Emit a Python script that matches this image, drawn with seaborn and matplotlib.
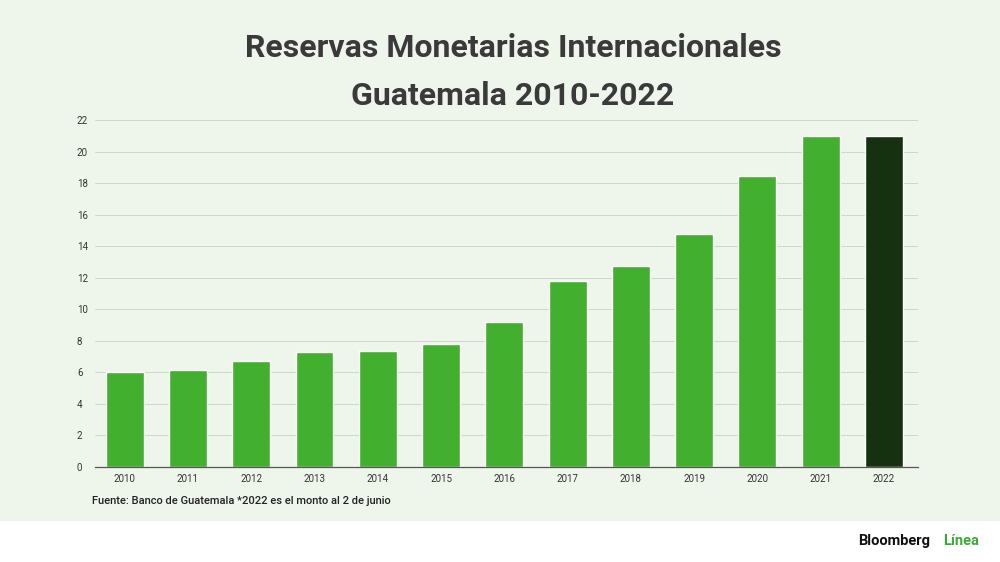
import matplotlib
matplotlib.use("Agg")
import matplotlib.pyplot as plt
import seaborn as sns
import pandas as pd
from matplotlib.patches import Rectangle

years = ["2010", "2011", "2012", "2013", "2014", "2015", "2016",
         "2017", "2018", "2019", "2020", "2021", "2022"]
reserves = [6.0, 6.15, 6.72, 7.29, 7.36, 7.8, 9.19, 11.8, 12.75, 14.78, 18.45, 20.99, 21.0]
yticks = [0, 2, 4, 6, 8, 10, 12, 14, 16, 18, 20, 22]

BG = "#EEF6EC"
GREEN = "#43AF2F"
DARK = "#15310F"

sns.set_style("white")
plt.rcParams["font.family"] = ["Roboto", "DejaVu Sans"]

df = pd.DataFrame({"year": years, "value": reserves})
palette = [GREEN] * (len(years) - 1) + [DARK]

fig = plt.figure(figsize=(10, 5.62), dpi=100)
fig.patch.set_facecolor("white")
fig.patches.append(Rectangle((0, 1 - 521 / 562), 1, 521 / 562, transform=fig.transFigure,
                             facecolor=BG, edgecolor="none", zorder=-10))

ax = fig.add_axes([0.095, 1 - 467 / 562, 0.823, (467 - 120) / 562])
ax.set_facecolor(BG)
sns.barplot(data=df, x="year", y="value", hue="year", palette=palette,
            legend=False, width=0.6, ax=ax, saturation=1)

ax.set_ylim(0, 22)
ax.set_yticks(yticks)
ax.set_yticklabels([str(t) for t in yticks], fontsize=7, color="#333333")
ax.tick_params(axis="x", labelsize=7, colors="#333333", length=0, pad=5)
ax.tick_params(axis="y", length=0)
for lab in ax.get_yticklabels():
    lab.set_horizontalalignment("left")
ax.yaxis.set_tick_params(pad=13)
ax.grid(axis="y", color="#CCD6CA", linewidth=0.7)
ax.set_axisbelow(True)
ax.set_xlabel("")
ax.set_ylabel("")
for s in ["top", "right", "left"]:
    ax.spines[s].set_visible(False)
ax.spines["bottom"].set_color("#555555")
ax.spines["bottom"].set_linewidth(0.9)
ax.set_xlim(-0.47, len(years) - 0.46)

fig.text(0.513, 1 - 48 / 562, "Reservas Monetarias Internacionales", ha="center", va="center",
         fontsize=23, fontweight="bold", color="#3a3a3a")
fig.text(0.513, 1 - 96 / 562, "Guatemala 2010-2022", ha="center", va="center",
         fontsize=23, fontweight="bold", color="#3a3a3a")
fig.text(0.092, 1 - 501 / 562, "Fuente: Banco de Guatemala *2022 es el monto al 2 de junio",
         ha="left", va="center", fontsize=8, fontweight="medium", color="#222222")
fig.text(0.858, 1 - 541 / 562, "Bloomberg", ha="left", va="center", fontsize=10.5,
         fontweight="bold", color="#111111")
fig.text(0.979, 1 - 541 / 562, "Línea", ha="right", va="center", fontsize=10.5,
         fontweight="bold", color="#3BAA35")

fig.savefig("out.png", dpi=100, facecolor=fig.get_facecolor())
